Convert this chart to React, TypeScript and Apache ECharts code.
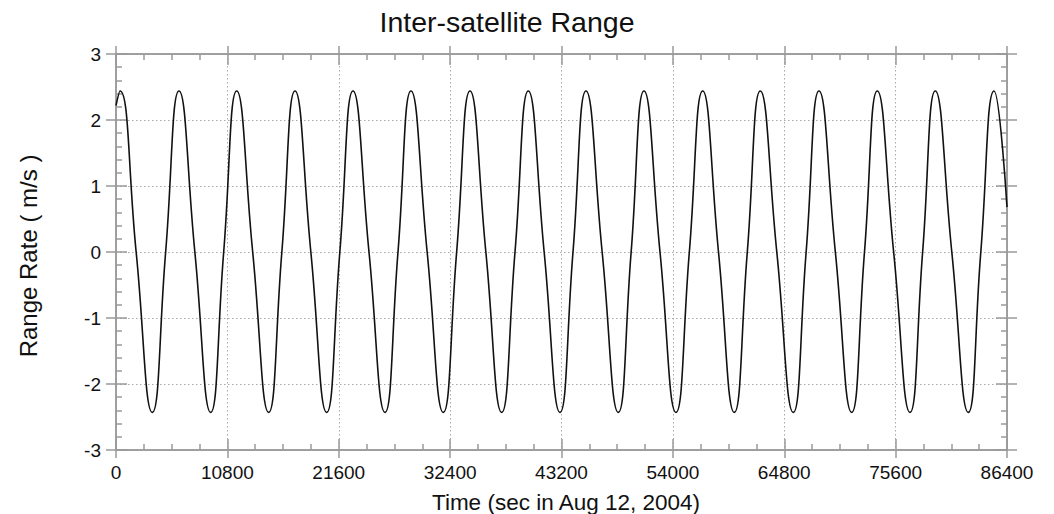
import React, { useEffect, useRef } from "react";
import * as echarts from "echarts";

// Values
const titleText = "Inter-satellite Range";
const xTitle = "Time (sec in Aug 12, 2004)";
const yTitle = "Range Rate ( m/s )";

const xTicks = [0, 10800, 21600, 32400, 43200, 54000, 64800, 75600, 86400];
const yTicks = [-3, -2, -1, 0, 1, 2, 3];

const startPoint = [0, 2.22];
const endPoint = [86400, 0.68];

const peakTimes = [388, 6109, 11704, 17358, 22982, 28606, 34327, 39981, 45576, 51200, 56892, 62478, 68170, 73823, 79447, 85150];
const peakValues = [2.44, 2.44, 2.44, 2.44, 2.44, 2.44, 2.44, 2.44, 2.44, 2.44, 2.44, 2.44, 2.44, 2.44, 2.44, 2.44];

const troughTimes = [3520, 9183, 14807, 20431, 26085, 31739, 37401, 43055, 48708, 54303, 59956, 65677, 71340, 76994, 82648];
const troughValues = [-2.43, -2.43, -2.43, -2.43, -2.43, -2.43, -2.43, -2.43, -2.43, -2.43, -2.43, -2.43, -2.43, -2.43, -2.43];

const zeroTimes = [
  1954, 4815, 7646, 10443, 13255, 16082, 18894, 21706, 24533, 27345, 30172,
  33033, 35864, 38691, 41518, 44315, 47142, 49954, 52751, 55597, 58424, 61217,
  64077, 66923, 69755, 72581, 75408, 78220, 81047, 83860,
];

const AXIS = "#9a9a9a";

export default function App() {
  const ref = useRef<HTMLDivElement>(null);
  useEffect(() => {
    if (!ref.current) return;
    const chart = echarts.init(ref.current, null, { renderer: "svg" });

    const pts: number[][] = [startPoint];
    peakTimes.forEach((t, i) => pts.push([t, peakValues[i]]));
    troughTimes.forEach((t, i) => pts.push([t, troughValues[i]]));
    zeroTimes.forEach((t) => pts.push([t, 0]));
    pts.push(endPoint);
    pts.sort((a, b) => a[0] - b[0]);

    const xMin = xTicks[0];
    const xMax = xTicks[xTicks.length - 1];
    const xInt = xTicks[1] - xTicks[0];
    const yMin = yTicks[0];
    const yMax = yTicks[yTicks.length - 1];
    const yInt = yTicks[1] - yTicks[0];

    const lineStyle = { color: AXIS, width: 1.5 };
    const labelBase = {
      fontSize: 19,
      color: "#111",
      fontFamily: "Liberation Sans",
      formatter: (v: number) => String(v),
    };
    const mkX = (pos: string, inside: boolean, main: boolean) => ({
      type: "value",
      position: pos,
      min: xMin,
      max: xMax,
      interval: xInt,
      axisLine: { show: true, onZero: false, lineStyle },
      axisTick: { show: true, inside, length: inside ? 11 : 8, lineStyle },
      minorTick: { show: inside, splitNumber: 4, length: 6, lineStyle },
      axisLabel: { show: main, ...labelBase, margin: 13 },
      splitLine: {
        show: main,
        lineStyle: { color: "#a8a8a8", type: [1.5, 2.5], width: 1 },
      },
      minorSplitLine: { show: false },
    });
    const mkY = (pos: string, inside: boolean, main: boolean) => ({
      type: "value",
      position: pos,
      min: yMin,
      max: yMax,
      interval: yInt,
      axisLine: { show: true, onZero: false, lineStyle },
      axisTick: { show: true, inside, length: inside ? 11 : 10, lineStyle },
      minorTick: { show: inside, splitNumber: 5, length: 6, lineStyle },
      axisLabel: { show: main, ...labelBase, margin: 15 },
      splitLine: {
        show: main,
        lineStyle: { color: "#a8a8a8", type: [1.5, 2.5], width: 1 },
      },
      minorSplitLine: { show: false },
    });

    chart.setOption({
      animation: false,
      backgroundColor: "#ffffff",
      grid: { left: 116, right: 47, top: 54, bottom: 64, containLabel: false },
      xAxis: [
        mkX("bottom", false, true),
        mkX("bottom", true, false),
        mkX("top", false, false),
        mkX("top", true, false),
      ],
      yAxis: [
        mkY("left", false, true),
        mkY("left", true, false),
        mkY("right", false, false),
        mkY("right", true, false),
      ],
      series: [
        {
          type: "line",
          xAxisIndex: 0,
          yAxisIndex: 0,
          data: pts,
          smooth: 0.5,
          symbol: "none",
          lineStyle: { color: "#111", width: 1.6 },
          z: 5,
        },
      ],
      graphic: [
        {
          type: "text",
          x: 507,
          y: 22,
          style: {
            text: titleText,
            fontSize: 28.5,
            fontFamily: "Liberation Sans",
            fill: "#111",
            textAlign: "center",
            textVerticalAlign: "middle",
          },
        },
        {
          type: "text",
          x: 566,
          y: 502,
          style: {
            text: xTitle,
            fontSize: 22.5,
            fontFamily: "Liberation Sans",
            fill: "#111",
            textAlign: "center",
            textVerticalAlign: "middle",
          },
        },
        {
          type: "text",
          x: 28,
          y: 256,
          rotation: Math.PI / 2,
          style: {
            text: yTitle,
            fontSize: 24,
            fontFamily: "Liberation Sans",
            fill: "#111",
            textAlign: "center",
            textVerticalAlign: "middle",
          },
        },
      ],
    });
    return () => chart.dispose();
  }, []);
  return (
    <div
      ref={ref}
      style={{ position: "fixed", left: 0, top: 0, width: 1054, height: 514, background: "#fff" }}
    />
  );
}
